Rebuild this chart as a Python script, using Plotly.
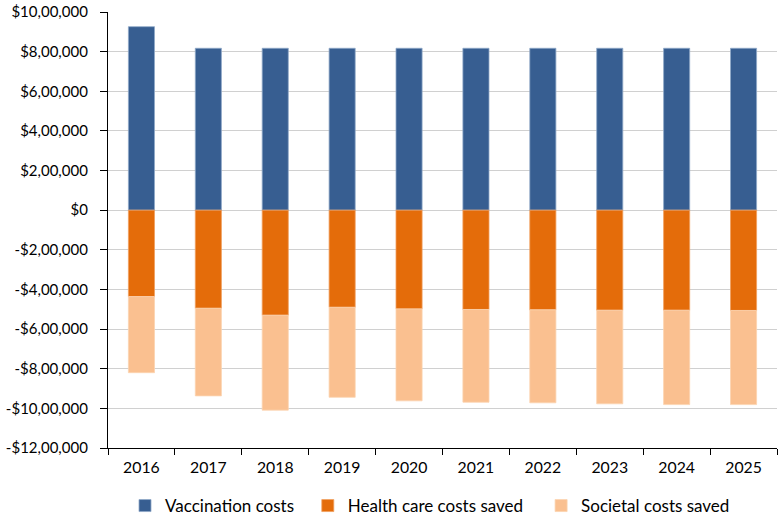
import plotly.graph_objects as go

years = ["2016", "2017", "2018", "2019", "2020", "2021", "2022", "2023", "2024", "2025"]
vaccination_costs = [926000, 817000, 817000, 817000, 817000, 817000, 817000, 817000, 817000, 817000]
health_care_costs_saved = [-436000, -495000, -530000, -490000, -498000, -501000, -503000, -505000, -505000, -506000]
societal_costs_saved = [-384000, -442000, -479000, -454000, -464000, -468000, -469000, -472000, -476000, -475000]

tick_vals = [1000000, 800000, 600000, 400000, 200000, 0, -200000, -400000, -600000, -800000, -1000000, -1200000]
tick_text = ["$10,00,000", "$8,00,000", "$6,00,000", "$4,00,000", "$2,00,000", "$0",
             "-$2,00,000", "-$4,00,000", "-$6,00,000", "-$8,00,000", "-$10,00,000", "-$12,00,000"]

font_family = "Lato, 'Open Sans', sans-serif"
fs = 15.8

fig = go.Figure()
fig.add_trace(go.Bar(x=years, y=vaccination_costs, name="Vaccination costs" + "\u00a0\u00a0",
                     marker=dict(color="#375E91", line=dict(width=0.8, color="#8FA8C8"))))
fig.add_trace(go.Bar(x=years, y=health_care_costs_saved, name="Health care costs saved" + "\u00a0\u00a0\u00a0",
                     marker=dict(color="#E46C0A", line=dict(width=0.8, color="#F0A060"))))
fig.add_trace(go.Bar(x=years, y=societal_costs_saved, name="Societal costs saved",
                     marker=dict(color="#FAC090", line=dict(width=0.8, color="#FBD3B0"))))

fig.update_layout(
    barmode="relative",
    bargap=0.61,
    width=779, height=518,
    margin=dict(l=108, r=2, t=10, b=70),
    plot_bgcolor="white", paper_bgcolor="white",
    font=dict(family=font_family, size=fs, color="#000000"),
    showlegend=True,
    legend=dict(orientation="h", x=0.552, xanchor="center", xref="container",
                y=1 - 506 / 518, yanchor="middle", yref="container",
                font=dict(size=17), traceorder="normal", itemclick=False),
    xaxis=dict(type="category", showline=True, linecolor="#000000", linewidth=1.3,
               ticks="outside", tickson="boundaries", ticklen=6, tickcolor="#000000",
               tickfont=dict(size=fs), showgrid=False, automargin=False,
               ticklabelstandoff=5),
    yaxis=dict(range=[-1200000, 1000000], tickvals=tick_vals, ticktext=tick_text,
               showline=True, linecolor="#000000", linewidth=1.3,
               ticks="outside", ticklen=7, tickcolor="#000000",
               showgrid=True, gridcolor="#D0D0D0", gridwidth=1.2,
               zeroline=True, zerolinecolor="#D0D0D0", zerolinewidth=1.2,
               tickfont=dict(size=15), automargin=True, ticklabelstandoff=9),
)

fig.write_html(
    "out.html",
    config={"responsive": False, "displayModeBar": False},
    post_script="document.body.style.margin='0';document.body.style.padding='0';"
                "document.body.style.overflow='hidden';",
)
